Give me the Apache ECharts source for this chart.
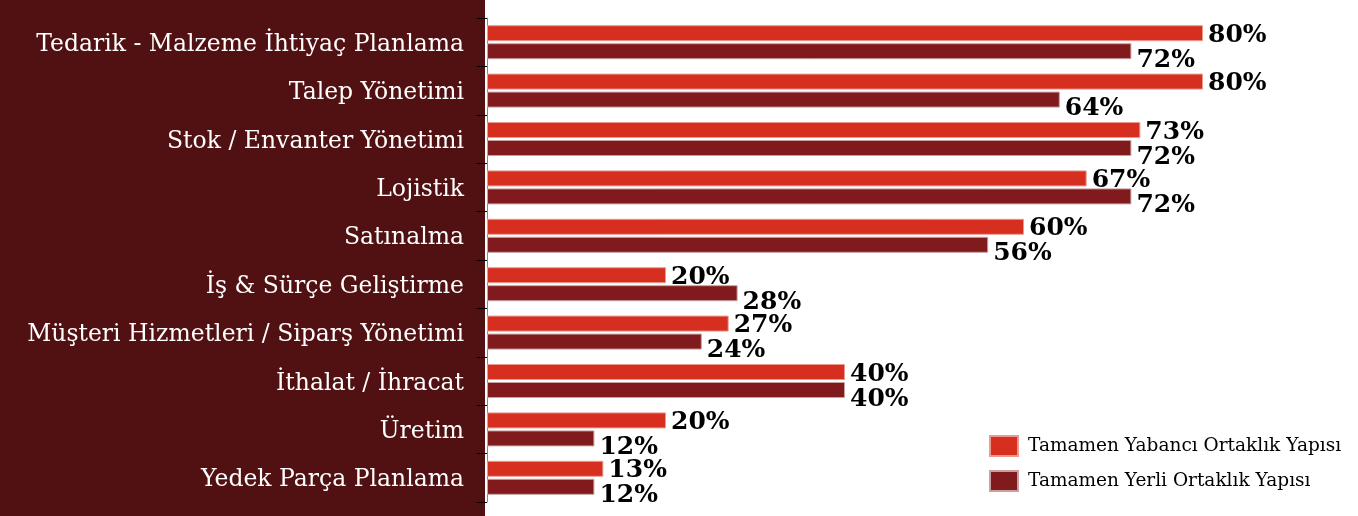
<!DOCTYPE html>
<html><head><meta charset="utf-8">
<script src="https://cdn.jsdelivr.net/npm/echarts@6/dist/echarts.min.js"></script>
<style>html,body{margin:0;padding:0;background:#fff}#c{width:1358px;height:516px}</style>
</head><body><div id="c"></div>
<script>
const categories = ['Tedarik - Malzeme İhtiyaç Planlama','Talep Yönetimi','Stok / Envanter Yönetimi','Lojistik','Satınalma','İş & Sürçe Geliştirme','Müşteri Hizmetleri / Siparş Yönetimi','İthalat / İhracat','Üretim','Yedek Parça Planlama'];
const seriesNames = ['Tamamen Yabancı Ortaklık Yapısı','Tamamen Yerli Ortaklık Yapısı'];
const yabanci = [80,80,73,67,60,20,27,40,20,13];
const yerli = [72,64,72,72,56,28,24,40,12,12];

const chart = echarts.init(document.getElementById('c'));
const labelFont = {fontFamily:'DejaVu Serif', fontWeight:'bold', fontSize:25, color:'#000'};
chart.setOption({
  animation:false,
  backgroundColor:'#fff',
  graphic:[{type:'rect', z:-10, shape:{x:0,y:0,width:485,height:516}, style:{fill:'#511012'}}],
  grid:{left:487, top:18, width:716, height:484},
  xAxis:{type:'value', min:0, max:80, show:false},
  yAxis:{type:'category', data:categories, inverse:true,
    axisLine:{show:true, lineStyle:{color:'#888', width:1}},
    axisTick:{show:true, length:10, lineStyle:{color:'#000'}},
    axisLabel:{margin:23, formatter:v => '{t|' + v + '}',
      rich:{t:{color:'#fff', fontFamily:'DejaVu Serif', fontSize:23.5, padding:[5,0,0,0]}}}},
  legend:{orient:'vertical', left:984, top:430, itemWidth:28, itemHeight:20, itemGap:13, icon:'rect',
    textStyle:{fontFamily:'DejaVu Serif', fontSize:18.5, color:'#000', padding:[0,0,0,5]},
    data:seriesNames},
  series:[
    {name:seriesNames[0], type:'bar', data:yabanci, barWidth:16, barGap:'12.5%',
     itemStyle:{color:'#d62e1f', borderColor:'#ec9a90', borderWidth:1},
     label:{show:true, position:'right', distance:5, offset:[0,2], formatter:'{c}%', ...labelFont}},
    {name:seriesNames[1], type:'bar', data:yerli, barWidth:16,
     itemStyle:{color:'#811a1c', borderColor:'#c8a0a0', borderWidth:1},
     label:{show:true, position:'right', distance:5, offset:[0,9], formatter:'{c}%', ...labelFont}}
  ]
});
</script></body></html>
